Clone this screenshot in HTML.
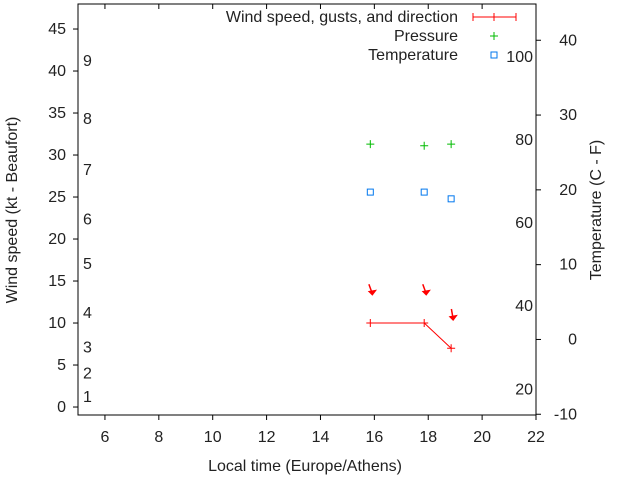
<!DOCTYPE html>
<html><head><meta charset="utf-8"><style>
body{margin:0;background:#fff}
svg text{font-family:"Liberation Sans",sans-serif;font-size:16px;fill:#222}
</style></head><body>
<svg id="chart" width="640" height="480" xmlns="http://www.w3.org/2000/svg">
<rect x="0" y="0" width="640" height="480" fill="#fff"/>
<g id="g"></g>
</svg>
<script>
const xTicks=[6,8,10,12,14,16,18,20,22];
const yTicks=[0,5,10,15,20,25,30,35,40,45];
const y2Ticks=[-10,0,10,20,30,40];
const fTicks=[20,40,60,80,100];
const beaufortLabels=["1","2","3","4","5","6","7","8","9"];
const beaufortKt=[1.2,4.0,7.1,11.2,17.0,22.3,28.2,34.3,41.2];
const windTimes=[15.85,17.85,18.85];
const windSpeed=[10,10,7];
const windDir=[20,20,10];
const gustKt=[13.5,13.5,10.5];
const pressTimes=[15.85,17.85,18.85];
const pressure=[31.3,31.1,31.3];
const tempTimes=[15.85,17.85,18.85];
const temperature=[19.7,19.7,18.8];

const L=78,R=536,T=4,B=415;
const X=v=>L+(v-5)*(R-L)/17;
const Y=v=>B-(v+0.95)*8.4;
const Y2=v=>B-(v+10.1)*7.48;
const g=document.getElementById('g');
const NS="http://www.w3.org/2000/svg";
function el(t,a){const e=document.createElementNS(NS,t);for(const k in a)e.setAttribute(k,a[k]);g.appendChild(e);return e;}
function txt(x,y,s,anchor){const e=el('text',{x:x,y:y,'text-anchor':anchor||'middle'});e.textContent=s;return e;}

let f=el('rect',{x:L,y:T,width:R-L,height:B-T,fill:'none',stroke:'#000','stroke-width':1});


xTicks.forEach(v=>{const x=X(v);
 el('line',{x1:x,y1:B,x2:x,y2:B+5,stroke:'#000'});
 el('line',{x1:x,y1:T,x2:x,y2:T+5,stroke:'#000'});
 const t=txt(x,B+27,String(v));
 
 });
yTicks.forEach(v=>{const y=Y(v);
 el('line',{x1:L-5,y1:y,x2:L,y2:y,stroke:'#000'});
 const t=txt(L-12,y+5,String(v),'end');
 
 });
y2Ticks.forEach(v=>{const y=Y2(v);
 el('line',{x1:R,y1:y,x2:R+5,y2:y,stroke:'#000'});
 const t=txt(R+5+36,y+5,String(v),'end');
 
 });
fTicks.forEach(v=>{const y=Y2((v-32)/1.8);
 const t=txt(533,y+5,String(v),'end');
 
 });
beaufortLabels.forEach((s,i)=>{
 const t=txt(83,Y(beaufortKt[i])+5,s,'start');
 
 });

let t=txt(305,471,'Local time (Europe/Athens)');


t=txt(0,0,'Wind speed (kt - Beaufort)');t.setAttribute('transform','translate(17,210) rotate(-90)');


t=txt(0,0,'Temperature (C - F)');t.setAttribute('transform','translate(601,210) rotate(-90)');



let pts=windTimes.map((v,i)=>X(v)+','+Y(windSpeed[i])).join(' ');
let pl=el('polyline',{points:pts,fill:'none',stroke:'#f00','stroke-width':1});


windTimes.forEach((v,i)=>{const x=X(v),y=Y(windSpeed[i]);
 const p=el('path',{d:`M${x-4},${y}h8M${x},${y-4}v8`,stroke:'#f00'});
 
 
 const gy=Y(gustKt[i]),gx=x+2;const a=windDir[i]*Math.PI/180;
 const sx=gx-10*Math.sin(a),sy=gy-10*Math.cos(a);
 const ar=el('path',{d:`M${sx},${sy}L${gx},${gy}M${gx-3},${gy-2}L${gx},${gy+1}L${gx+3},${gy-3}Z`,stroke:'#f00',fill:'#f00','stroke-width':1.5});
 
 });
pressTimes.forEach((v,i)=>{const x=X(v),y=Y(pressure[i]);
 const p=el('path',{d:`M${x-4},${y}h8M${x},${y-4}v8`,stroke:'#0b0'});
 
 });
tempTimes.forEach((v,i)=>{const x=X(v),y=Y2(temperature[i]);
 const p=el('rect',{x:x-3,y:y-3,width:6,height:6,fill:'none',stroke:'#07e'});
 
 });

t=txt(458,22,'Wind speed, gusts, and direction','end');


let lg=el('path',{d:'M473,17H516M473,13v8M494,13v8M516,13v8',stroke:'#f00'});


t=txt(458,41,'Pressure','end');


lg=el('path',{d:'M490,36h8M494,32v8',stroke:'#0b0'});


t=txt(458,60,'Temperature','end');


lg=el('rect',{x:491,y:52,width:6,height:6,fill:'none',stroke:'#07e'});


</script>
</body></html>
